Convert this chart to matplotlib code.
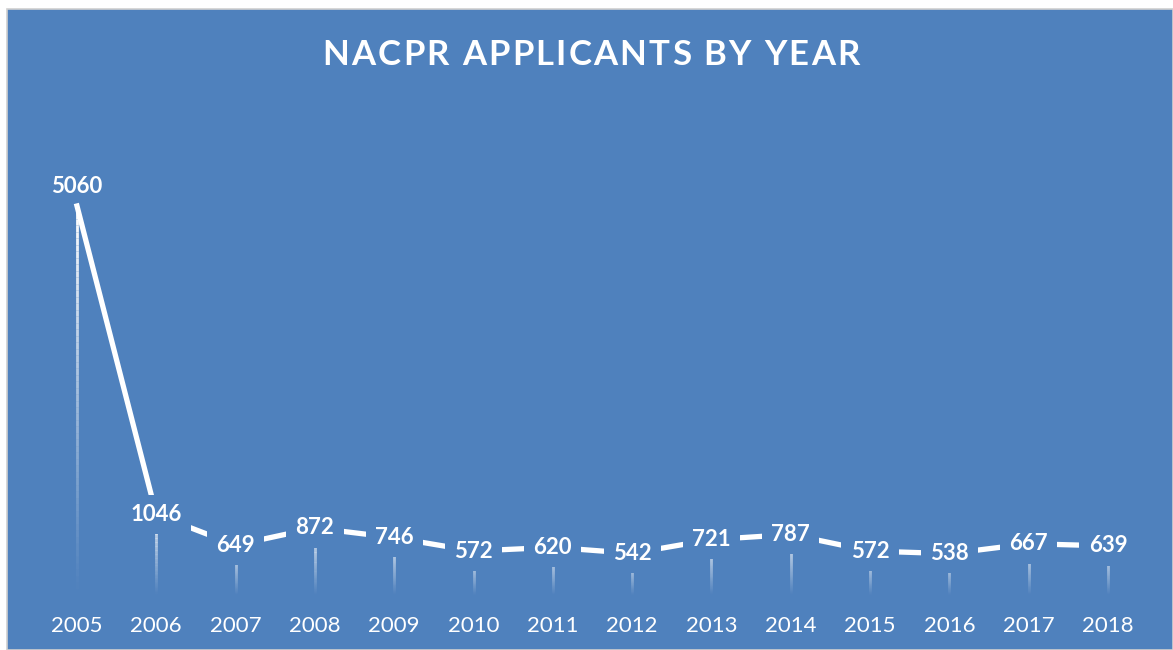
import matplotlib
matplotlib.use("Agg")
from matplotlib import pyplot as plt
from matplotlib.collections import LineCollection
from matplotlib.patches import Rectangle
from matplotlib.textpath import TextPath
from matplotlib.font_manager import FontProperties
import numpy as np

years = ["2005", "2006", "2007", "2008", "2009", "2010", "2011",
         "2012", "2013", "2014", "2015", "2016", "2017", "2018"]
applicants = [5060, 1046, 649, 872, 746, 572, 620, 542, 721, 787, 572, 538, 667, 639]
title = "NACPR APPLICANTS BY YEAR"

BLUE = "#4f81bd"
W, H = 1173, 650

fig = plt.figure(figsize=(W / 100, H / 100), dpi=100)
fig.patch.set_facecolor("white")

# blue chart area with thin grey frame
fig.patches.append(Rectangle((7 / W, 0), 1 - 7 / W, 1 - 9 / H, transform=fig.transFigure,
                             facecolor=BLUE, edgecolor="#d0d0d0", linewidth=1.2, zorder=-10))

# axes placed so the data fits the plot area of the original
left, right = 77 / W, 1108 / W
bottom, top = (H - 595) / H, (H - 206) / H
ax = fig.add_axes([left, bottom, right - left, top - bottom], zorder=1)
ax.set_facecolor("none")
for s in ax.spines.values():
    s.set_visible(False)
ax.set_xlim(0, len(years) - 1)
ax.set_ylim(0, max(applicants))
ax.set_yticks([])
ax.set_xticks(range(len(years)))
ax.set_xticklabels(years, color="white", fontsize=16, family="Lato")
ax.tick_params(axis="x", length=0, pad=15)

x = np.arange(len(years))

# fading drop lines
n = 60
for xi, yi in zip(x, applicants):
    ys = np.linspace(0, yi, n + 1)
    segs = [[(xi, ys[k]), (xi, ys[k + 1])] for k in range(n)]
    alphas = np.linspace(0.0, 1.0, n) ** 1.1
    cols = [(1, 1, 1, a) for a in alphas]
    ax.add_collection(LineCollection(segs, colors=cols, linewidths=2.0, zorder=2, clip_on=False))

ax.plot(x, applicants, color="white", linewidth=3.8, zorder=3, clip_on=False,
        solid_joinstyle="miter")

box = dict(boxstyle="square,pad=0.42", facecolor=BLUE, edgecolor="none")
for i, (xi, yi) in enumerate(zip(x, applicants)):
    if i == 0:
        ax.annotate(str(yi), (xi, yi), xytext=(0, 14), textcoords="offset points",
                    ha="center", va="center", color="white", fontsize=16,
                    fontweight="bold", family="Lato", zorder=5, annotation_clip=False)
    else:
        ax.text(xi, yi, str(yi), ha="center", va="center", color="white", fontsize=16,
                fontweight="bold", family="Lato", bbox=box, zorder=5, clip_on=False)

# title with letter spacing, drawn char by char
fsize = 25
fp = FontProperties(family="Lato", weight="bold", size=fsize)
spacing = 2.2  # px between letters
px_per_pt = 100 / 72
advances = []
for ch in title:
    if ch == " ":
        w = TextPath((0, 0), "a a", prop=fp).get_extents().width - TextPath((0, 0), "aa", prop=fp).get_extents().width
    else:
        w = TextPath((0, 0), "|" + ch + "|", prop=fp).get_extents().width - TextPath((0, 0), "||", prop=fp).get_extents().width
    advances.append(w * px_per_pt + spacing)
total = sum(advances) - spacing
xpos = 591 - total / 2
for ch, adv in zip(title, advances):
    fig.text(xpos / W, 1 - 55 / H, ch, ha="left", va="center", color="white",
             fontproperties=fp)
    xpos += adv

fig.savefig("out.png", dpi=100, facecolor=fig.get_facecolor())
